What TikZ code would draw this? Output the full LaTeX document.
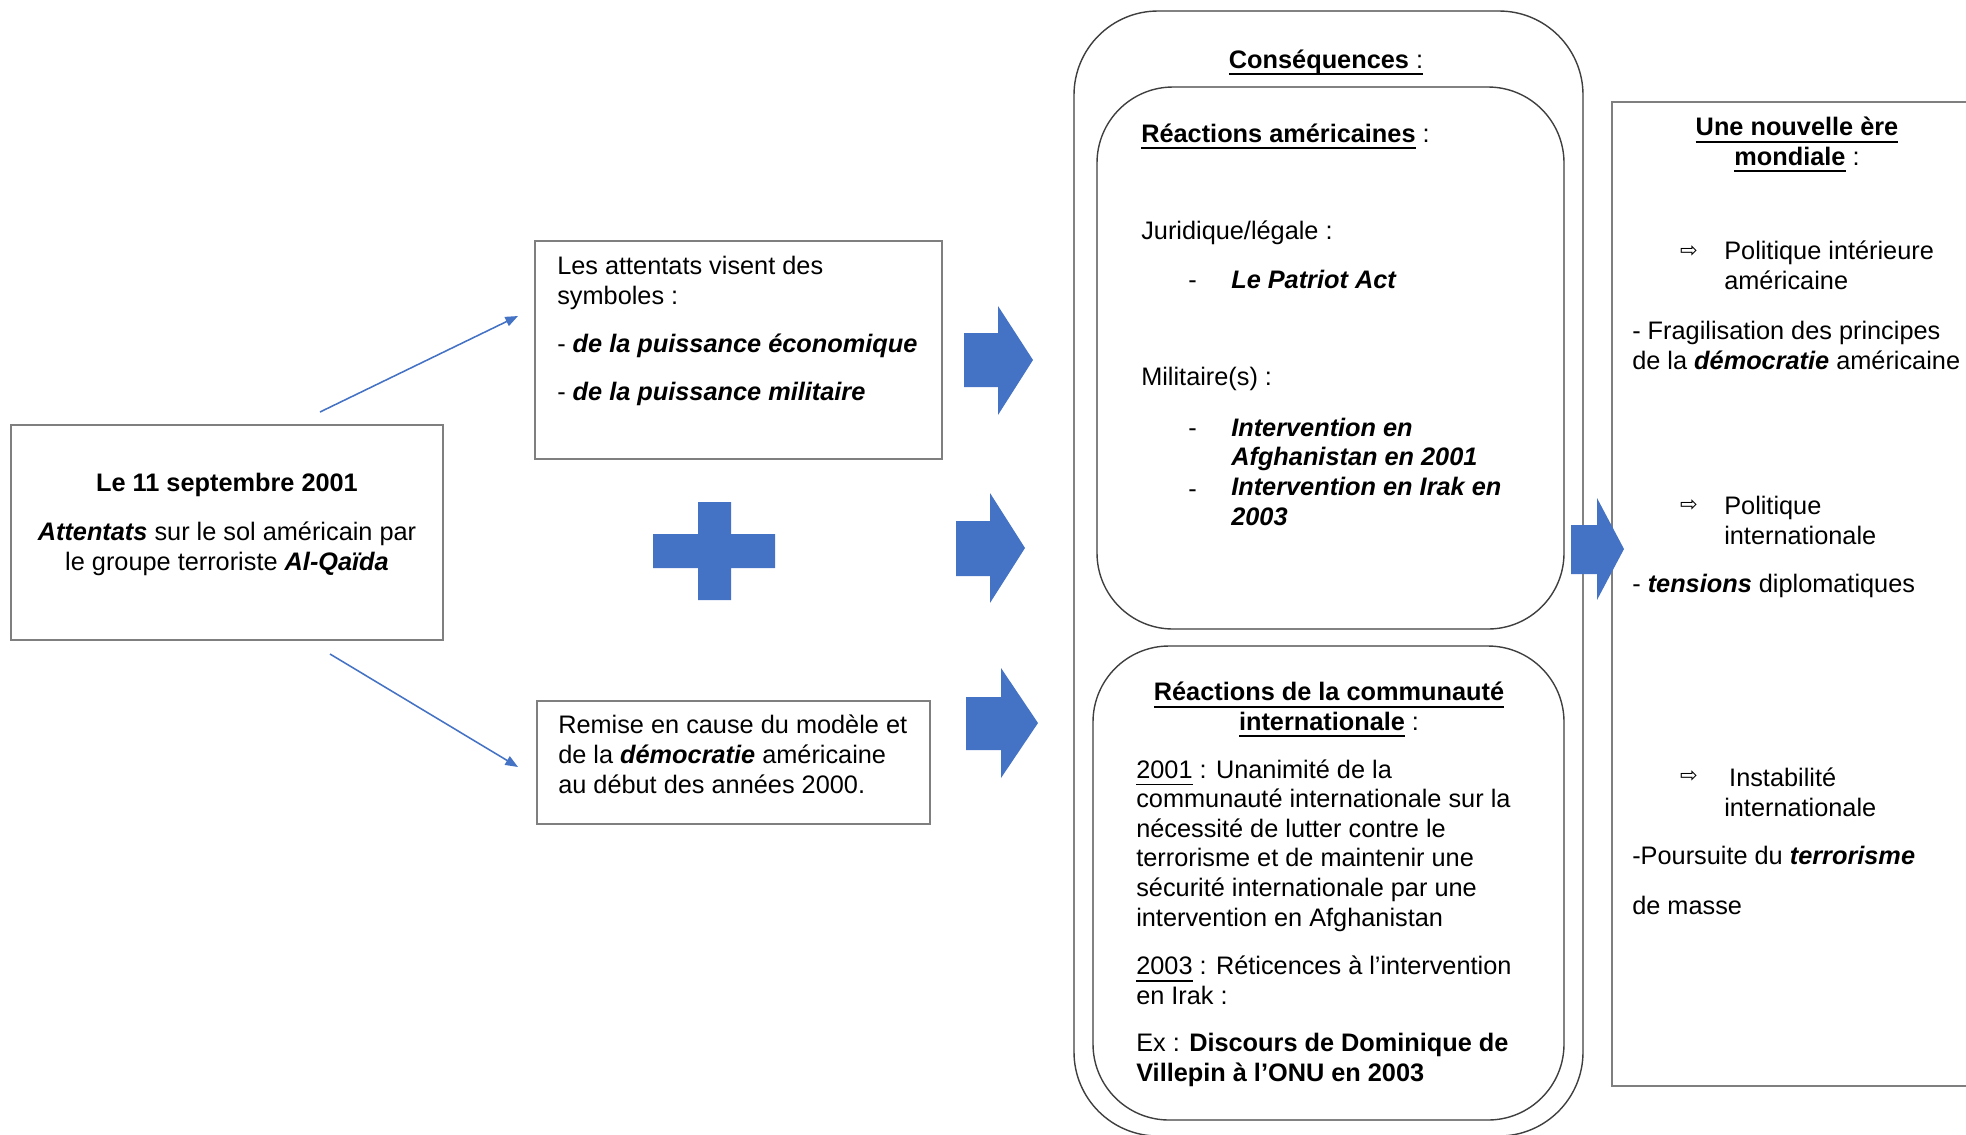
\documentclass[tikz,border=0pt]{standalone}
\usepackage{fontspec}
\setmainfont{Liberation Sans}
\newfontfamily\symfont{DejaVu Sans}
\usetikzlibrary{arrows.meta}
\definecolor{arrowblue}{HTML}{4472C4}
\definecolor{boxgray}{HTML}{7F7F7F}
\definecolor{roundgray}{HTML}{3F3F3F}
\newcommand{\bi}[1]{\textbf{\textit{#1}}}
\newcommand{\souligne}[1]{\setbox0=\hbox{#1}\rlap{\rule[-5pt]{\wd0}{1.2pt}}\box0\relax}
\begin{document}
\begin{tikzpicture}[x=0.025cm,y=-0.025cm,
  txt/.style={inner sep=0pt,anchor=base west,align=left,font=\fontsize{18}{21}\selectfont},
  ctxt/.style={txt,anchor=base,align=center},
  bitxt/.style={txt,font=\fontsize{18}{21}\selectfont\bfseries\itshape},
  sym/.style={inner sep=0pt,font=\symfont\fontsize{15}{15}\selectfont},
  graybox/.style={draw=boxgray,line width=1.5pt},
  roundbox/.style={draw=roundgray,line width=1pt,rounded corners=1.9cm},
  bigarrow/.style={fill=arrowblue},
  thinarrow/.style={arrowblue,line width=1.1pt,-{Triangle[length=9pt,width=7pt]}}]
\useasboundingbox (0,0) rectangle (1966,1134);

\draw[graybox] (11,425) rectangle (443,640);
\draw[graybox] (535,241) rectangle (942,459);
\draw[graybox] (537,701) rectangle (930,824);
\draw[graybox] (1612,102) rectangle (1990,1086);
\draw[roundbox,rounded corners=2.1cm] (1074,11) rectangle (1583,1136);
\draw[roundbox] (1097,87) rectangle (1564,629);
\draw[roundbox] (1093,646) rectangle (1564,1120);

\node[ctxt] (date) at (227,491) {\textbf{Le 11 septembre 2001}};
\node[ctxt] (attentats) at (227,570) {\bi{Attentats} sur le sol américain par\\le groupe terroriste \bi{Al-Qaïda}};

\node[txt] (symboles) at (557,400) {Les attentats visent des\\symboles :\\[13pt]- \bi{de la puissance économique}\\[13pt]- \bi{de la puissance militaire}};
\node[txt] (remise) at (558,793) {Remise en cause du modèle et\\de la \bi{démocratie} américaine\\au début des années 2000.};

\coordinate (haut0) at (320,412);
\coordinate (haut1) at (518,316);
\coordinate (bas0) at (330,654);
\coordinate (bas1) at (518,767);
\draw[thinarrow] (haut0) -- (haut1);
\draw[thinarrow] (bas0) -- (bas1);

\fill[bigarrow] (653,534) -- (698,534) -- (698,502) -- (731,502) -- (731,534) -- (775,534) -- (775,568) -- (731,568) -- (731,600) -- (698,600) -- (698,568) -- (653,568) -- cycle;

\fill[bigarrow] (964,333) -- ++(34,0) -- ++(0,-27) -- ++(35,54) -- ++(-35,55) -- ++(0,-28) -- ++(-34,0) -- cycle;
\fill[bigarrow] (956,521) -- ++(34,0) -- ++(0,-28) -- ++(35,55) -- ++(-35,55) -- ++(0,-27) -- ++(-34,0) -- cycle;
\fill[bigarrow] (966,697) -- ++(35,0) -- ++(0,-29) -- ++(37,55) -- ++(-37,55) -- ++(0,-28) -- ++(-35,0) -- cycle;
\fill[bigarrow] (1571,525) -- ++(26,0) -- ++(0,-27) -- ++(27,51) -- ++(-27,51) -- ++(0,-26) -- ++(-26,0) -- cycle;

\node[ctxt] (consequences) at (1326,68) {\souligne{\textbf{Conséquences} :}};
\node[txt] (usa) at (1141,142) {\souligne{\textbf{Réactions américaines}} :};
\node[txt] (juridique) at (1141,239) {Juridique/légale :};
\node[txt] (tiret1) at (1188,288) {-};
\node[bitxt] (patriot) at (1231,288) {Le Patriot Act};
\node[txt] (militaire) at (1141,385) {Militaire(s) :};
\node[txt] (tiret2) at (1188,436) {-};
\node[txt] (tiret3) at (1188,497) {-};
\node[bitxt] (interventions) at (1231,525) {Intervention en\\Afghanistan en 2001\\Intervention en Irak en\\2003};

\node[ctxt] (communaute) at (1329,730) {\souligne{\textbf{Réactions de la communauté}}\\\souligne{\textbf{internationale}} :};
\node[txt] (unanimite) at (1136,926) {\souligne{2001} : Unanimité de la\\communauté internationale sur la\\nécessité de lutter contre le\\terrorisme et de maintenir une\\sécurité internationale par une\\intervention en Afghanistan};
\node[txt] (reticences) at (1136,1004) {\souligne{2003} : Réticences à l’intervention\\en Irak :};
\node[txt] (villepin) at (1136,1081) {Ex : \textbf{Discours de Dominique de}\\\textbf{Villepin à l’ONU en 2003}};

\node[ctxt] (ere) at (1797,165) {\souligne{\textbf{Une nouvelle ère}}\\\souligne{\textbf{mondiale}} :};
\node[sym] (fl1) at (1689,252) {⇨};
\node[txt] (interieure) at (1724,289) {Politique intérieure\\américaine};
\node[txt] (fragilisation) at (1632,369) {- Fragilisation des principes\\de la \bi{démocratie} américaine};
\node[sym] (fl2) at (1689,506) {⇨};
\node[txt] (internationale) at (1724,544) {Politique\\internationale};
\node[txt] (tensions) at (1632,592) {- \bi{tensions} diplomatiques};
\node[sym] (fl3) at (1689,777) {⇨};
\node[txt] (instabilite) at (1724,816) {\hspace{3.5pt}Instabilité\\internationale};
\node[txt] (poursuite) at (1632,864) {-Poursuite du \bi{terrorisme}};
\node[txt] (masse) at (1632,914) {de masse};
\end{tikzpicture}
\end{document}
